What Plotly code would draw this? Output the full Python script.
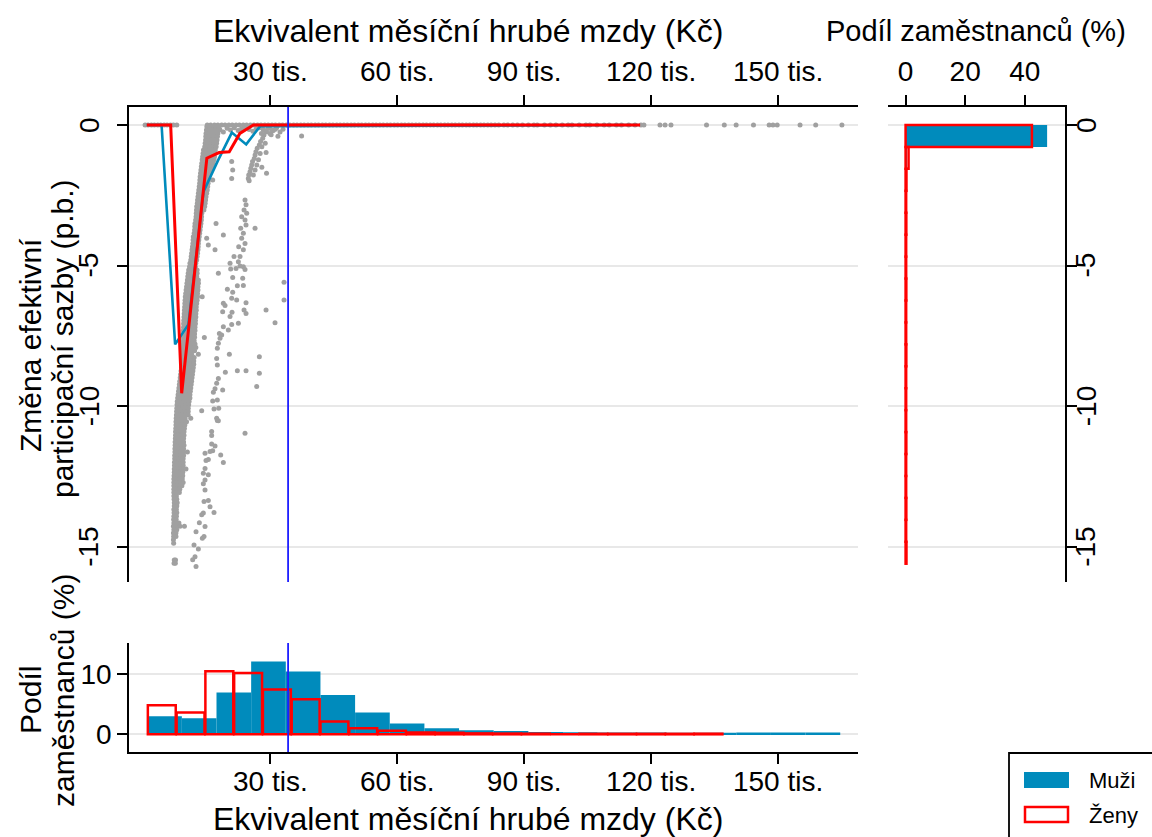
import plotly.graph_objects as go

# ---------------- DATA ----------------
# wages are in thousands of CZK (tis. Kč), changes in percentage points

# gray scatter: observations lying on the zero line
zero_wage = [0.4, 1.1, 1.9, 2.6, 3.4, 4.1, 4.9, 5.6, 6.4, 7.1, 7.9,
             15.1, 15.9, 16.8, 17.6, 18.5, 19.3, 20.2, 21.0, 21.9, 22.7, 23.6, 24.4,
             25.3, 26.1, 27.0, 27.8, 28.7, 29.5, 30.4, 31.2, 32.1, 32.9, 33.8, 34.6,
             35.5, 36.3, 37.2, 38.0, 38.9, 39.7, 40.6, 41.4, 42.3, 43.1, 44.0, 44.8,
             45.7, 46.5, 47.4, 48.2, 49.1, 49.9, 50.8, 51.6, 52.5, 53.3, 54.2, 55.0,
             55.9, 56.7, 57.6, 58.4, 59.3, 60.1, 61.0, 61.8, 62.7, 63.5, 64.4, 65.2,
             66.1, 66.9, 67.8, 68.6, 69.5, 70.3, 71.2, 72.0, 72.9, 73.7, 74.6, 75.4,
             76.3, 77.1, 78.0, 78.8, 79.7, 80.5, 81.4, 82.2, 83.1, 84.0, 85.2, 86.1,
             87.3, 88.4, 89.6, 91.0, 92.3, 93.1, 94.8, 96.2, 97.5, 99.0, 100.4, 101.3,
             103.0, 104.6, 105.5, 107.2, 108.9, 110.1, 111.8, 113.0, 114.7, 116.2,
             117.6, 118.3, 122.1, 123.3, 124.7, 133.1, 137.3, 140.1, 144.2, 147.9,
             148.8, 149.8, 155.2, 158.9, 165.1]

# gray scatter: points just below the zero line
near_zero_wage = [15.4, 16.3, 17.1, 18.0, 18.9, 19.8, 20.6, 21.5, 22.4, 23.2, 24.1, 25.0,
                  25.9, 26.7, 27.4, 28.3, 29.8, 30.7, 31.5, 32.3, 33.0, 30.2, 31.8, 37.4]
near_zero_change = [-0.12, -0.20, -0.10, -0.15, -0.25, -0.12, -0.18, -0.10, -0.20, -0.14,
                    -0.10, -0.16, -0.22, -0.12, -0.10, -0.15, -0.12, -0.20, -0.10, -0.25,
                    -0.15, -0.35, -0.40, -0.39]

# gray scatter: main dense band (change, wages observed at that change)
band_a_rows = [
    (-0.06, [15.0, 15.7, 16.4, 17.1, 17.8]),
    (-0.18, [14.9, 15.6, 16.3, 17.0, 17.7, 18.1]),
    (-0.30, [14.8, 15.5, 16.2, 16.9, 17.6]),
    (-0.41, [14.75, 15.45, 16.15, 16.85, 17.5]),
    (-0.53, [14.7, 15.4, 16.1, 16.8, 17.4]),
    (-0.65, [14.6, 15.3, 16.0, 16.7, 17.3]),
    (-0.77, [14.5, 15.2, 15.9, 16.6, 17.2]),
    (-0.89, [14.2, 14.9, 15.6, 16.3, 17.0]),
    (-1.01, [14.1, 14.8, 15.5, 16.2, 16.9]),
    (-1.13, [14.0, 14.7, 15.4, 16.1, 16.8]),
    (-1.24, [13.9, 14.6, 15.3, 16.0, 16.7]),
    (-1.36, [13.8, 14.5, 15.2, 15.9, 16.5]),
    (-1.48, [13.7, 14.4, 15.1, 15.8, 16.3]),
    (-1.60, [13.6, 14.3, 15.0, 15.7, 16.1]),
    (-1.72, [13.5, 14.2, 14.9, 15.6]),
    (-1.84, [13.4, 14.1, 14.8, 15.5]),
    (-1.96, [13.35, 14.05, 14.75, 15.4]),
    (-2.07, [13.3, 14.0, 14.7, 15.3]),
    (-2.19, [13.2, 13.9, 14.6, 15.2]),
    (-2.31, [13.1, 13.8, 14.5, 15.1]),
    (-2.43, [13.0, 13.7, 14.4, 14.96]),
    (-2.55, [12.9, 13.6, 14.3, 14.8]),
    (-2.67, [12.8, 13.5, 14.2, 14.7]),
    (-2.78, [12.75, 13.45, 14.1, 14.6]),
    (-2.90, [12.6, 13.3, 14.0, 14.5]),
    (-3.02, [12.55, 13.25, 13.9, 14.3]),
    (-3.14, [12.5, 13.2, 13.8]),
    (-3.26, [12.45, 13.15, 13.75]),
    (-3.38, [12.35, 13.05, 13.7]),
    (-3.50, [12.2, 12.9, 13.6]),
    (-3.61, [12.15, 12.85, 13.5]),
    (-3.73, [12.1, 12.8, 13.4]),
    (-3.85, [12.0, 12.7, 13.3]),
    (-3.97, [11.8, 12.5, 13.2]),
    (-4.09, [11.75, 12.45, 13.1]),
    (-4.21, [11.7, 12.4, 13.0]),
    (-4.33, [11.6, 12.3, 12.95]),
    (-4.44, [11.5, 12.2, 12.9]),
    (-4.56, [11.4, 12.1, 12.8]),
    (-4.68, [11.3, 12.0, 12.7]),
    (-4.80, [11.2, 11.9, 12.6]),
    (-4.92, [11.0, 11.7, 12.4]),
    (-5.04, [10.9, 11.6, 12.3]),
    (-5.16, [10.7, 11.4, 12.1, 12.7]),
    (-5.27, [10.6, 11.3, 12.0, 12.7]),
    (-5.39, [10.5, 11.2, 11.9, 12.6]),
    (-5.51, [10.4, 11.1, 11.8, 12.5, 13.0]),
    (-5.63, [10.3, 11.0, 11.7, 12.4, 13.0]),
    (-5.75, [10.2, 10.9, 11.6, 12.3, 12.9]),
    (-5.87, [10.1, 10.8, 11.5, 12.2, 12.9]),
    (-5.99, [10.0, 10.7, 11.4, 12.1, 12.8]),
    (-6.11, [9.9, 10.6, 11.3, 12.0, 12.8, 13.9]),
    (-6.23, [9.85, 10.55, 11.25, 11.95, 12.7]),
    (-6.35, [9.8, 10.5, 11.2, 11.9, 12.6]),
    (-6.47, [9.75, 10.45, 11.15, 11.85, 12.5]),
    (-6.59, [9.7, 10.4, 11.1, 11.8, 12.5]),
    (-6.71, [9.65, 10.35, 11.05, 11.75, 12.4]),
    (-6.83, [9.6, 10.3, 11.0, 11.7, 12.4]),
    (-6.95, [9.55, 10.25, 10.95, 11.65, 12.3]),
    (-7.07, [9.5, 10.2, 10.9, 11.6, 12.3]),
    (-7.19, [9.5, 10.2, 10.9, 11.6, 12.2]),
    (-7.31, [9.45, 10.15, 10.85, 11.55, 12.2]),
    (-7.43, [9.45, 10.15, 10.85, 11.55, 12.1]),
    (-7.55, [9.4, 10.1, 10.8, 11.5, 12.1]),
    (-7.67, [9.4, 10.1, 10.8, 11.5, 12.0]),
    (-7.79, [9.35, 10.05, 10.75, 11.45, 12.2]),
    (-7.91, [9.35, 10.05, 10.75, 11.45, 12.4]),
    (-8.03, [9.3, 10.0, 10.7, 11.4, 12.1]),
    (-8.15, [9.3, 10.0, 10.7, 11.4, 12.99]),
    (-8.27, [9.25, 9.95, 10.65, 11.35, 12.0]),
    (-8.39, [9.2, 9.9, 10.6, 11.3, 11.9]),
    (-8.51, [9.1, 9.8, 10.5, 11.2, 11.9]),
    (-8.63, [9.0, 9.7, 10.4, 11.1, 11.8]),
    (-8.75, [8.9, 9.6, 10.3, 11.0, 11.7]),
    (-8.87, [8.8, 9.5, 10.2, 10.9, 11.6]),
    (-8.99, [8.7, 9.4, 10.1, 10.8, 11.5]),
    (-9.11, [8.6, 9.3, 10.0, 10.7, 11.4]),
    (-9.23, [8.5, 9.2, 9.9, 10.6, 11.3]),
    (-9.35, [8.4, 9.1, 9.8, 10.5, 11.2]),
    (-9.47, [8.3, 9.0, 9.7, 10.4, 11.1]),
    (-9.59, [8.2, 8.9, 9.6, 10.3, 11.0]),
    (-9.71, [8.1, 8.8, 9.5, 10.2, 11.0]),
    (-9.83, [8.0, 8.7, 9.4, 10.1, 10.8]),
    (-9.95, [7.95, 8.65, 9.35, 10.05, 10.7]),
    (-10.07, [7.9, 8.6, 9.3, 10.0, 10.6]),
    (-10.19, [7.85, 8.55, 9.25, 9.95, 10.6]),
    (-10.31, [7.8, 8.5, 9.2, 9.9, 10.6]),
    (-10.43, [7.75, 8.45, 9.15, 9.85, 11.2]),
    (-10.55, [7.7, 8.4, 9.1, 9.8, 10.2]),
    (-10.67, [7.7, 8.4, 9.1, 9.8]),
    (-10.79, [7.65, 8.35, 9.05, 9.7]),
    (-10.91, [7.6, 8.3, 9.0, 9.6]),
    (-11.03, [7.6, 8.3, 9.0, 9.6]),
    (-11.15, [7.55, 8.25, 8.95, 9.5]),
    (-11.27, [7.5, 8.2, 8.9, 9.5]),
    (-11.39, [7.5, 8.2, 8.9, 9.6]),
    (-11.51, [7.45, 8.15, 8.85, 9.5]),
    (-11.63, [7.45, 8.15, 8.85, 9.5, 10.4]),
    (-11.75, [7.4, 8.1, 8.8, 9.5]),
    (-11.87, [7.4, 8.1, 8.8, 9.4]),
    (-11.99, [7.35, 8.05, 8.75, 9.4]),
    (-12.11, [7.35, 8.05, 8.75, 9.4]),
    (-12.23, [7.3, 8.0, 8.7, 9.3, 10.07]),
    (-12.35, [7.3, 8.0, 8.7, 9.3]),
    (-12.47, [7.25, 7.95, 8.65, 9.3]),
    (-12.59, [7.2, 7.9, 8.6, 9.2]),
    (-12.71, [7.2, 7.9, 8.6, 9.4]),
    (-12.83, [7.2, 7.9, 8.6, 9.1]),
    (-12.95, [7.2, 7.9, 8.6]),
    (-13.07, [7.2, 7.9, 8.5]),
    (-13.19, [7.2, 7.8]),
    (-13.31, [7.25, 7.9]),
    (-13.43, [7.3, 8.0]),
    (-13.55, [7.3, 7.9]),
    (-13.67, [7.2, 7.8]),
    (-13.79, [7.25, 7.9]),
    (-13.91, [7.2, 7.8]),
    (-14.03, [7.15, 7.75]),
    (-14.15, [7.2, 7.8, 8.4]),
    (-14.27, [7.1, 7.7, 8.65, 9.7]),
    (-14.39, [7.2, 7.9]),
    (-14.51, [7.1, 7.7]),
    (-14.63, [7.15, 7.7]),
    (-14.75, [7.1]),
    (-14.87, [7.15]),
    (-15.47, [7.3, 7.6]),
    (-15.58, [7.25, 7.55]),
]

# gray scatter: secondary streaks and isolated observations
band_b_wage = [20.87, 21.11, 20.87, 16.38, 17.17, 18.90, 14.96, 15.35, 16.93, 26.39,
               24.02, 24.26, 23.79, 24.42, 23.23, 24.02, 24.26, 23.0, 23.63, 23.23,
               24.02, 22.53, 23.63, 21.42, 22.84, 22.45, 20.48, 22.84, 21.9,
               17.72, 20.63, 23.63, 24.02, 21.11, 23.47, 19.85, 21.11, 22.21, 23.63,
               20.87, 22.05, 24.26, 18.9, 19.3, 23.79, 24.26, 20.95, 18.74, 20.48,
               28.99, 31.11, 20.87, 22.45, 18.9, 20.08, 18.5, 18.11, 17.72, 17.48,
               14.41, 20.32, 17.32, 19.37, 22.21, 24.26, 27.41, 27.41, 17.48, 17.72,
               17.32, 16.93, 16.54, 18.74, 26.78, 16.38, 17.48, 13.78, 16.69, 17.8,
               17.32, 17.72, 17.96, 33.24, 33.24,
               17.48, 16.14, 16.14, 24.02, 16.14, 16.93, 16.38, 15.75, 14.57, 18.27,
               18.9, 15.35, 14.8, 14.57, 14.17, 15.35, 14.57, 14.17, 14.57, 14.33,
               15.35, 15.75, 16.69, 14.17, 13.78, 13.23, 14.57, 12.44, 14.33, 13.94,
               11.97, 12.99, 11.65, 12.2, 12.44]
band_b_change = [-1.30, -1.60, -1.90, -1.96, -3.50, -3.91, -4.03, -4.27, -4.44, -3.67,
                 -2.67, -2.84, -3.02, -3.14, -3.26, -3.38, -3.56, -3.67, -3.85, -4.03,
                 -4.21, -4.33, -4.44, -4.68, -4.68, -4.86, -4.92, -5.01, -5.10,
                 -5.27, -5.12, -5.04, -5.14, -5.42, -5.45, -5.84, -5.95, -5.72, -5.71,
                 -6.16, -6.22, -6.32, -6.34, -6.42, -6.58, -6.70, -6.66, -6.64, -6.81,
                 -6.58, -7.03, -7.09, -7.05, -7.17, -7.29, -7.47, -7.58, -7.76, -7.94,
                 -7.56, -8.15, -8.30, -8.79, -8.74, -8.74, -8.24, -8.83, -8.53, -9.01,
                 -9.18, -9.38, -9.50, -9.42, -9.30, -9.81, -9.78, -10.16, -10.10, -10.07,
                 -10.43, -10.52, -7.41, -5.59, -6.22,
                 -10.51, -10.90, -11.04, -10.96, -11.34, -11.41, -11.58, -11.61, -11.67, -11.73,
                 -12.00, -11.89, -11.93, -12.21, -12.38, -12.44, -12.62, -12.76, -12.98, -13.39,
                 -13.35, -13.57, -13.78, -13.80, -13.86, -14.14, -14.28, -14.46, -14.63, -14.69,
                 -14.93, -15.08, -15.46, -15.35, -15.70]

# gray scatter: upper streak at 25-30 tis.
band_c_wage = [29.5, 29.1, 28.5, 28.2, 27.7, 27.4, 26.9, 26.6, 26.4, 26.2, 25.8, 25.6,
               25.4, 25.2, 24.9, 24.8, 25.0, 28.0, 27.6, 27.2, 26.8, 26.4, 26.0, 29.0,
               28.0, 29.1, 29.9, 28.8, 30.5, 31.2, 28.6, 27.9]
band_c_change = [-0.12, -0.24, -0.36, -0.47, -0.59, -0.71, -0.83, -0.95, -1.07, -1.19,
                 -1.30, -1.42, -1.54, -1.66, -1.78, -1.90, -1.98, -0.77, -1.01, -1.24,
                 -1.42, -1.60, -1.78, -0.98, -1.50, -1.72, -0.30, -0.65, -0.20, -0.15,
                 -0.20, -0.30]

# mean lines
men_line_wage = [0.8, 4.3, 7.5, 10.65, 14.2, 17.7, 20.9, 24.3, 27.6, 117.0]
men_line_change = [0.0, 0.0, -7.8, -7.09, -2.37, -1.24, -0.27, -0.69, -0.04, 0.0]
women_line_wage = [0.8, 6.45, 9.05, 15.0, 17.9, 20.3, 22.8, 26.0, 117.4]
women_line_change = [0.0, 0.0, -9.54, -1.18, -0.98, -0.95, -0.30, 0.0, 0.0]

# reference wage (vertical line)
avg_wage = 34.2

# wage distribution (bottom panel), % of employees
men_wage_bin_start, men_wage_bin_width = 0.9, 8.19
men_wage_pct = [3.0, 2.65, 6.9, 12.0, 10.35, 6.5, 3.6, 1.8, 1.0, 0.65,
                0.55, 0.4, 0.35, 0.3, 0.3, 0.25, 0.25, 0.3, 0.3, 0.3]
women_wage_bin_start, women_wage_bin_width = 0.95, 6.8
women_wage_pct = [4.8, 3.6, 10.4, 10.1, 7.4, 5.8, 2.1, 1.0, 0.6, 0.3,
                  0.25, 0.15, 0.12, 0.1, 0.0, 0.08, 0.08, 0.08, 0.08, 0.1]

# distribution of the change (right panel), % of employees, from lowest bin up
rate_bin_start, rate_bin_width = -15.6, 0.78
men_rate_pct = [0.05, 0.05, 0.1, 0.08, 0.1, 0.1, 0.1, 0.12, 0.1, 0.1,
                0.15, 0.1, 0.12, 0.12, 0.15, 0.15, 0.1, 0.15, 0.4, 47.5]
women_rate_pct = [0.3, 0.2, 0.25, 0.2, 0.2, 0.25, 0.2, 0.2, 0.2, 0.25,
                  0.2, 0.2, 0.25, 0.2, 0.2, 0.25, 0.2, 0.3, 1.0, 42.4]

wage_ticks = [30, 60, 90, 120, 150]
wage_ticktext = ["30 tis.", "60 tis.", "90 tis.", "120 tis.", "150 tis."]
change_ticks = [0, -5, -10, -15]
change_ticktext = ["0", "-5", "-10", "-15"]
share_ticks_bottom = [0, 10]
share_ticks_right = [0, 20, 40]

# ---------------- FIGURE ----------------
W, H = 1152, 837
BLUE = "rgb(0,139,188)"
RED = "rgb(255,0,0)"
GRAY = "rgb(160,160,160)"
GRID = "rgb(232,232,232)"
VLINE = "rgb(30,30,255)"
FONT = "Liberation Sans, Arial, sans-serif"


def px(x):
    return x / W


def py(y):
    return 1 - y / H


gray_x = list(zero_wage) + list(near_zero_wage)
gray_y = [0.0] * len(zero_wage) + list(near_zero_change)
for ch, ws in band_a_rows:
    gray_x += ws
    gray_y += [ch] * len(ws)
gray_x += band_b_wage + band_c_wage
gray_y += band_b_change + band_c_change

men_centers = [men_wage_bin_start + (i + 0.5) * men_wage_bin_width for i in range(len(men_wage_pct))]
women_centers = [women_wage_bin_start + (i + 0.5) * women_wage_bin_width for i in range(len(women_wage_pct))]
rate_centers = [rate_bin_start + (i + 0.5) * rate_bin_width for i in range(len(men_rate_pct))]

fig = go.Figure()
fig.add_trace(go.Scatter(x=gray_x, y=gray_y, mode="markers", xaxis="x", yaxis="y",
                         marker=dict(size=5, color=GRAY, line=dict(width=0)), hoverinfo="skip"))
fig.add_trace(go.Scatter(x=men_line_wage, y=men_line_change, mode="lines", xaxis="x", yaxis="y",
                         line=dict(color=BLUE, width=2.6)))
fig.add_trace(go.Scatter(x=women_line_wage, y=women_line_change, mode="lines", xaxis="x", yaxis="y",
                         line=dict(color=RED, width=3)))

fig.add_trace(go.Bar(x=men_centers, y=men_wage_pct, width=men_wage_bin_width, xaxis="x2", yaxis="y2",
                     marker=dict(color=BLUE, line=dict(width=0))))
fig.add_trace(go.Bar(x=women_centers, y=women_wage_pct, width=women_wage_bin_width * 0.97, xaxis="x2", yaxis="y2",
                     marker=dict(color="rgba(0,0,0,0)", line=dict(color=RED, width=2.5))))

fig.add_trace(go.Bar(y=rate_centers, x=men_rate_pct, width=rate_bin_width, orientation="h", xaxis="x3", yaxis="y3",
                     marker=dict(color=BLUE, line=dict(width=0))))
fig.add_trace(go.Bar(y=rate_centers, x=women_rate_pct, width=rate_bin_width, orientation="h", xaxis="x3", yaxis="y3",
                     marker=dict(color="rgba(0,0,0,0)", line=dict(color=RED, width=2.5))))

axis_common = dict(showline=True, linecolor="black", linewidth=1.5, ticks="outside", ticklen=10,
                   tickwidth=1.5, tickcolor="black", zeroline=False,
                   tickfont=dict(family=FONT, size=28, color="black"))

main_x_dom = [px(129), px(858)]
main_y_dom = [py(582), py(107)]
right_x_dom = [px(888), px(1065)]
bottom_y_dom = [py(752), py(643)]

fig.update_layout(
    width=W, height=H, margin=dict(l=0, r=0, t=0, b=0),
    paper_bgcolor="white", plot_bgcolor="white", showlegend=False, barmode="overlay",
    font=dict(family=FONT, color="black"),
    xaxis=dict(domain=main_x_dom, range=[-3.4, 168.9], side="top", anchor="y",
               tickvals=wage_ticks, ticktext=wage_ticktext, showgrid=False,
               ticklabelstandoff=3, **axis_common),
    yaxis=dict(domain=main_y_dom, range=[-16.25, 0.64], anchor="x", tickvals=change_ticks,
               showticklabels=False, showgrid=True, gridcolor=GRID, gridwidth=1.5, **axis_common),
    xaxis2=dict(domain=main_x_dom, range=[-3.4, 168.9], side="bottom", anchor="y2",
                tickvals=wage_ticks, ticktext=wage_ticktext, showgrid=False,
                ticklabelstandoff=-6, **axis_common),
    yaxis2=dict(domain=bottom_y_dom, range=[-2.92, 15.07], anchor="x2", tickvals=share_ticks_bottom,
                showgrid=True, gridcolor=GRID, gridwidth=1.5, **axis_common),
    xaxis3=dict(domain=right_x_dom, range=[-5.9, 53.5], side="top", anchor="y3",
                tickvals=share_ticks_right, showgrid=False, ticklabelstandoff=3, **axis_common),
    yaxis3=dict(domain=main_y_dom, range=[-16.25, 0.64], anchor="x3", side="right",
                tickvals=change_ticks, showticklabels=False, showgrid=True,
                gridcolor=GRID, gridwidth=1.5, **axis_common),
)

# rotated tick labels of the change axes, placed at the axis values
for val, txt in zip(change_ticks, change_ticktext):
    for xpos, yref in ((89, "y"), (1086, "y3")):
        fig.add_annotation(text=txt, x=px(xpos), xref="paper", y=val, yref=yref, showarrow=False,
                           textangle=-90, xanchor="center", yanchor="middle",
                           font=dict(family=FONT, size=28, color="black"))

# reference wage line in both wage panels
fig.add_shape(type="line", xref="x", yref="y domain", x0=avg_wage, x1=avg_wage, y0=0, y1=1,
              line=dict(color=VLINE, width=1.8))
fig.add_shape(type="line", xref="x2", yref="y2 domain", x0=avg_wage, x1=avg_wage, y0=0, y1=1,
              line=dict(color=VLINE, width=1.8))

# legend drawn as a framed box
fig.add_shape(type="rect", xref="paper", yref="paper", x0=px(1009), x1=px(1170), y0=py(860), y1=py(753),
              line=dict(color="black", width=1.8), fillcolor="rgba(0,0,0,0)")
fig.add_shape(type="rect", xref="paper", yref="paper", x0=px(1024), x1=px(1069), y0=py(788), y1=py(772),
              line=dict(width=0), fillcolor=BLUE)
fig.add_shape(type="rect", xref="paper", yref="paper", x0=px(1025), x1=px(1068), y0=py(822), y1=py(807),
              line=dict(color=RED, width=2.5), fillcolor="rgba(0,0,0,0)")


def label(text, x, y, size, angle=0, xanchor="center"):
    fig.add_annotation(text=text, x=px(x), y=py(y), xref="paper", yref="paper", showarrow=False,
                       textangle=angle, xanchor=xanchor, yanchor="middle",
                       font=dict(family=FONT, size=size, color="black"))


label("Muži", 1087, 780, 22, xanchor="left")
label("Ženy", 1087, 815, 22, xanchor="left")
label("Ekvivalent měsíční hrubé mzdy (Kč)", 468, 31, 32)
label("Podíl zaměstnanců (%)", 976, 31, 29)
label("Ekvivalent měsíční hrubé mzdy (Kč)", 468, 819, 32)
label("Změna efektivní", 30, 345, 30, angle=-90)
label("participační sazby (p.b.)", 63, 339, 30, angle=-90)
label("Podíl", 30, 700, 30, angle=-90)
label("zaměstnanců (%)", 63, 691, 30, angle=-90)

fig.write_html("out.html", config={"displayModeBar": False},
               post_script="document.body.style.margin='0';document.body.style.overflow='hidden';")
